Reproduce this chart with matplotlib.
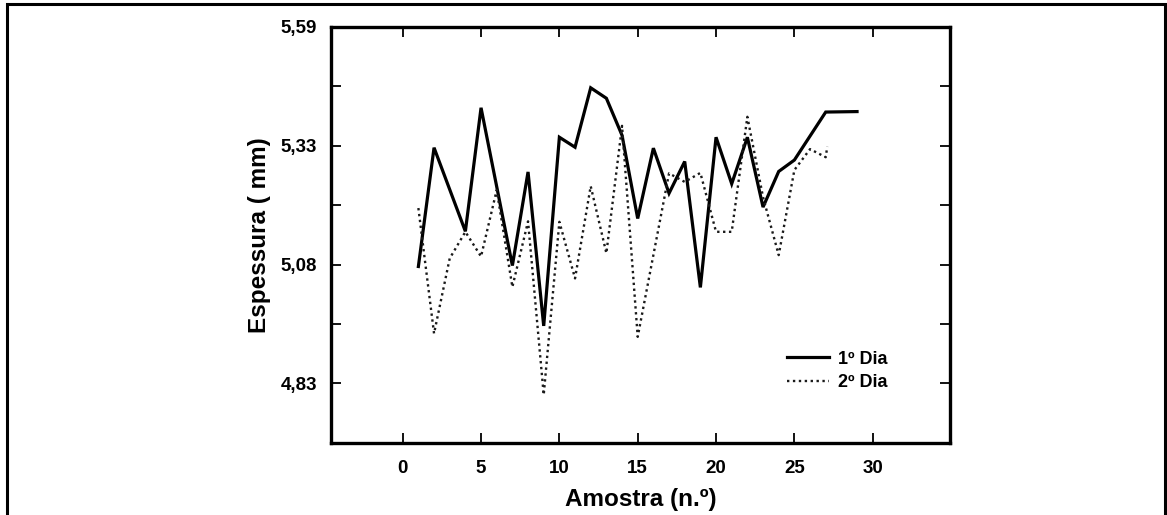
"""Espessura vs amostra, two days of measurements (1º / 2º Dia)."""

import matplotlib
matplotlib.use("Agg")
import matplotlib.pyplot as plt
from matplotlib.patches import Rectangle

# 1º Dia (solid)
DIA1_X = [1, 2, 4, 5, 7, 8, 9, 10, 11, 12, 13, 14, 15, 16, 17, 18, 19, 20, 21, 22, 23, 24, 25, 27, 29]
DIA1_Y = [5.076, 5.326, 5.150, 5.410, 5.078, 5.275, 4.951, 5.348, 5.327, 5.452, 5.430, 5.352, 5.177,
          5.325, 5.230, 5.297, 5.032, 5.348, 5.250, 5.348, 5.201, 5.276, 5.300, 5.401, 5.402]

# 2º Dia (dotted)
DIA2_X = [1, 2, 3, 4, 5, 6, 7, 8, 9, 10, 11, 12, 13, 14, 15, 17, 18, 19, 20, 21, 22, 23, 24, 25, 26, 27, 27.1]
DIA2_Y = [5.199, 4.935, 5.093, 5.149, 5.097, 5.237, 5.033, 5.171, 4.806, 5.170, 5.051, 5.245, 5.104,
          5.372, 4.928, 5.272, 5.254, 5.273, 5.149, 5.149, 5.391, 5.222, 5.100, 5.279, 5.323, 5.306, 5.328]

X_TICKS = [0, 5, 10, 15, 20, 25, 30]
Y_TICKS = [4.83, 4.955, 5.08, 5.205, 5.33, 5.455, 5.58]
Y_TICK_LABELS = ["4,83", "", "5,08", "", "5,33", "", "5,59"]

SERIES_LABELS = ["1º Dia", "2º Dia"]


def setup_plot_style() -> None:
    plt.rcParams["font.family"] = ["Liberation Sans", "DejaVu Sans"]
    plt.rcParams["font.weight"] = "bold"
    plt.rcParams["axes.labelweight"] = "bold"


def main() -> None:
    setup_plot_style()
    fig = plt.figure(figsize=(11.67, 5.15), dpi=100)
    ax = fig.add_axes([0.2836, 0.1398, 0.5304, 0.8078])

    ax.plot(DIA1_X, DIA1_Y, color="black", linewidth=2.3, linestyle="-",
            solid_joinstyle="miter", label=SERIES_LABELS[0])
    ax.plot(DIA2_X, DIA2_Y, color="#1a1a1a", linewidth=1.7, linestyle=(0, (1, 1.5)),
            label=SERIES_LABELS[1])

    ax.set_xlim(-4.58, 34.93)
    ax.set_ylim(4.7046, 5.58)
    ax.set_xticks(X_TICKS)
    ax.set_yticks(Y_TICKS)
    ax.set_yticklabels(Y_TICK_LABELS)

    ax.tick_params(axis="both", direction="in", length=7, width=1.3, labelsize=13.5,
                   top=True, right=True)
    ax.tick_params(axis="x", pad=12)
    ax.tick_params(axis="y", pad=10)
    for lbl in ax.get_xticklabels() + ax.get_yticklabels():
        lbl.set_fontweight("bold")

    for spine in ax.spines.values():
        spine.set_linewidth(2.4)
        spine.set_color("black")

    ax.set_xlabel("Amostra (n.º)", fontsize=17.5, fontweight="bold", labelpad=8)
    ax.set_ylabel("Espessura ( mm)", fontsize=17.5, fontweight="bold", labelpad=7)

    ax.legend(
        loc="upper left",
        bbox_to_anchor=(0.737, 0.222),
        frameon=False,
        fontsize=13,
        handlelength=2.3,
        handletextpad=0.5,
        labelspacing=0.35,
        borderpad=0,
        borderaxespad=0,
    )

    # outer frame round the whole picture
    fig.add_artist(Rectangle((7 / 1167, -0.05), (1165 - 7) / 1167, 1.05 - 4 / 515,
                             transform=fig.transFigure, fill=False,
                             edgecolor="black", linewidth=2.2, clip_on=False))

    fig.savefig("out.png", dpi=100)
    plt.close(fig)


if __name__ == "__main__":
    main()
